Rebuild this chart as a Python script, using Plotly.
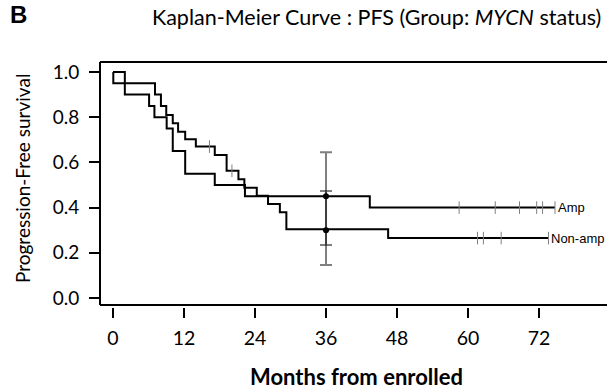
import plotly.graph_objects as go

# ---- data ----
amp_time = [0, 2.0, 6.1, 7.0, 9.07, 10.1, 12.2, 17.2, 22.3, 43.4, 74.7]
amp_surv = [1.0, 0.90, 0.85, 0.80, 0.75, 0.65, 0.55, 0.50, 0.45, 0.40, 0.40]
amp_cens_time = [58.5, 64.6, 68.7, 71.6, 72.6, 74.7]
amp_cens_surv = [0.40, 0.40, 0.40, 0.40, 0.40, 0.40]

nonamp_time = [0, 0.05, 7.1, 8.1, 9.0, 10.1, 11.0, 12.2, 14.0, 17.2, 19.2, 21.2, 22.2, 24.3, 26.2, 28.2, 29.3, 46.5, 73.6]
nonamp_surv = [1.0, 0.95, 0.90, 0.85, 0.81, 0.773, 0.736, 0.702, 0.670, 0.633, 0.563, 0.525, 0.488, 0.452, 0.416, 0.379, 0.304, 0.265, 0.265]
nonamp_cens_time = [16.3, 20.1, 61.6, 62.6, 65.6, 73.6]
nonamp_cens_surv = [0.670, 0.563, 0.265, 0.265, 0.265, 0.265]

ci_month = [36]
amp_est, amp_lo, amp_hi = 0.45, 0.235, 0.645
nonamp_est, nonamp_lo, nonamp_hi = 0.30, 0.146, 0.473

x_ticks = [0, 12, 24, 36, 48, 60, 72]
y_ticks = [0.0, 0.2, 0.4, 0.6, 0.8, 1.0]
y_tick_text = ["0.0", "0.2", "0.4", "0.6", "0.8", "1.0"]
group_labels = ["Amp", "Non-amp"]

FONT = "Lato"
CENS = "#808080"

fig = go.Figure()

for t, s in [(amp_time, amp_surv), (nonamp_time, nonamp_surv)]:
    fig.add_trace(go.Scatter(x=t, y=s, mode="lines", line=dict(color="black", width=2, shape="hv"),
                             showlegend=False, hoverinfo="skip"))

for t, s in [(amp_cens_time, amp_cens_surv), (nonamp_cens_time, nonamp_cens_surv)]:
    fig.add_trace(go.Scatter(x=t, y=s, mode="markers",
                             marker=dict(symbol="line-ns-open", size=9, color=CENS,
                                         line=dict(color=CENS, width=1)),
                             showlegend=False, hoverinfo="skip"))

for est, lo, hi in [(amp_est, amp_lo, amp_hi), (nonamp_est, nonamp_lo, nonamp_hi)]:
    fig.add_trace(go.Scatter(x=ci_month, y=[est], mode="markers",
                             marker=dict(color="black", size=6),
                             error_y=dict(type="data", symmetric=False, array=[hi - est], arrayminus=[est - lo],
                                          color="rgba(0,0,0,0.5)", thickness=2, width=6),
                             showlegend=False, hoverinfo="skip"))

# curve end labels
fig.add_annotation(x=amp_cens_time[-1], y=amp_surv[-1], text=group_labels[0], showarrow=False,
                   xanchor="left", xshift=1, font=dict(family="Liberation Sans", size=13, color="black"))
fig.add_annotation(x=nonamp_cens_time[-1], y=nonamp_surv[-1], text=group_labels[1], showarrow=False,
                   xanchor="left", xshift=1, font=dict(family="Liberation Sans", size=13, color="black"))

# frame lines (left, top, bottom)
fig.add_shape(type="line", xref="paper", yref="paper", x0=0, x1=0, y0=2/245, y1=1,
              line=dict(color="black", width=2))
fig.add_shape(type="line", xref="paper", yref="paper", x0=0, x1=1, y0=1, y1=1,
              line=dict(color="black", width=2))
fig.add_shape(type="line", xref="paper", yref="paper", x0=0, x1=1, y0=2/245, y1=2/245,
              line=dict(color="black", width=2))

# titles
fig.add_annotation(xref="paper", yref="paper", x=(150-100)/507, y=(307-17)/245, xanchor="left", yanchor="middle",
                   text="Kaplan-Meier Curve : PFS (Group: <i>MYCN</i> status)", showarrow=False,
                   font=dict(family=FONT, size=21.5, color="black"))
fig.add_annotation(xref="paper", yref="paper", x=(8-100)/507, y=(307-15)/245, xanchor="left", yanchor="middle",
                   text="<b>B</b>", showarrow=False, font=dict(family="Liberation Sans", size=24, color="black"))
fig.add_annotation(xref="paper", yref="paper", x=(22-100)/507, y=(307-179)/245, xanchor="center", yanchor="middle",
                   text="Progression-Free survival", textangle=-90, showarrow=False,
                   font=dict(family=FONT, size=19, color="black"))
fig.add_annotation(xref="paper", yref="paper", x=(356-100)/507, y=(307-377)/245, xanchor="center", yanchor="middle",
                   text="<b>Months from enrolled</b>", showarrow=False,
                   font=dict(family=FONT, size=22, color="black"))

fig.update_layout(
    width=607, height=389,
    margin=dict(l=100, r=0, t=62, b=82),
    paper_bgcolor="white", plot_bgcolor="white",
    xaxis=dict(range=[-13/5.917, 494/5.917], tickvals=x_ticks, ticks="outside", ticklen=10, tickwidth=2,
               tickcolor="black", showgrid=False, zeroline=False, showline=False, ticklabelstandoff=4,
               tickfont=dict(family=FONT, size=19.5, color="black")),
    yaxis=dict(range=[-9/226, 1 + 10/226], tickvals=y_ticks, ticktext=y_tick_text, ticks="outside",
               ticklen=10, tickwidth=2, tickcolor="black", showgrid=False, zeroline=False, showline=False,
               ticklabelstandoff=6, tickfont=dict(family=FONT, size=19, color="black")),
)

fig.write_html("out.html", config={"displayModeBar": False},
               post_script="document.body.style.margin='0px';document.body.style.overflow='hidden';")
